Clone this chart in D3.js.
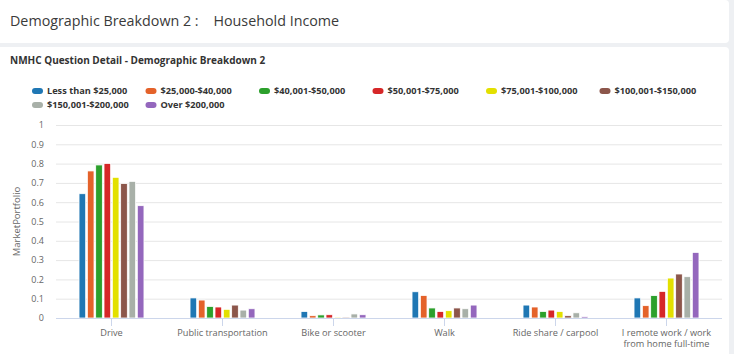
<!DOCTYPE html>
<html>
<head>
<meta charset="utf-8">
<script src="https://cdn.jsdelivr.net/npm/d3@7"></script>
<style>
	body { margin: 0; background: #eef0f3; font-family: "Open Sans", sans-serif; }
</style>
</head>
<body>
<div id="bar_chart"></div>
<script>
// data
const categories = ["Drive", "Public transportation", "Bike or scooter", "Walk", "Ride share / carpool", "I remote work / work from home full-time"];
const seriesNames = ["Less than $25,000", "$25,000-$40,000", "$40,001-$50,000", "$50,001-$75,000", "$75,001-$100,000", "$100,001-$150,000", "$150,001-$200,000", "Over $200,000"];
const lessThan25k = [0.644, 0.104, 0.034, 0.136, 0.067, 0.104];
const from25kTo40k = [0.762, 0.093, 0.012, 0.117, 0.057, 0.064];
const from40kTo50k = [0.793, 0.060, 0.016, 0.052, 0.034, 0.116];
const from50kTo75k = [0.801, 0.057, 0.017, 0.034, 0.041, 0.138];
const from75kTo100k = [0.729, 0.045, 0.005, 0.038, 0.034, 0.207];
const from100kTo150k = [0.697, 0.067, 0.005, 0.052, 0.012, 0.228];
const from150kTo200k = [0.708, 0.041, 0.021, 0.048, 0.027, 0.214];
const over200k = [0.582, 0.048, 0.017, 0.067, 0.007, 0.340];
const yTicks = [0, 0.1, 0.2, 0.3, 0.4, 0.5, 0.6, 0.7, 0.8, 0.9, 1];
const colors = ["#1f77b4", "#e4622a", "#2ca02c", "#d62728", "#e3e000", "#8c564b", "#a8b0a8", "#9467bd"];

const allSeries = [lessThan25k, from25kTo40k, from40kTo50k, from50kTo75k, from75kTo100k, from100kTo150k, from150kTo200k, over200k];
const rows = [];
categories.forEach((c, i) => {
	seriesNames.forEach((s, j) => rows.push({cat: c, name: s, value: allSeries[j][i]}));
});

const W = 734, H = 354;
const plot = {left: 56, right: 722, top: 125, bottom: 318};
const textColor = "#666666";

const svg = d3.select("#bar_chart")
	.append("svg")
	.attr("width", W)
	.attr("height", H);

// page background and the two cards
svg.append("rect").attr("width", W).attr("height", H).attr("fill", "#eef0f3");
svg.append("rect").attr("x", -4).attr("y", 0).attr("width", 733).attr("height", 43).attr("rx", 4).attr("fill", "white");
svg.append("rect").attr("x", -4).attr("y", 47).attr("width", 733).attr("height", 320).attr("rx", 4).attr("fill", "white");

// headings
svg.append("text")
	.attr("x", 10)
	.attr("y", 26)
	.style("font-size", "14.3px")
	.style("fill", "#3a3a3a")
	.attr("xml:space", "preserve")
	.text("Demographic Breakdown 2 :    Household Income");

svg.append("text")
	.attr("x", 10)
	.attr("y", 64)
	.style("font-size", "10px")
	.style("font-weight", "bold")
	.style("fill", "#333")
	.text("NMHC Question Detail - Demographic Breakdown 2");

// legend, 6 items per row
const legend = svg.append("g")
	.selectAll("g")
	.data(seriesNames)
	.join("g")
	.attr("transform", (d, i) => `translate(${32 + (i % 6) * 113.5},${91 + Math.floor(i / 6) * 14})`);

legend.append("rect")
	.attr("x", 0)
	.attr("y", -3)
	.attr("width", 11)
	.attr("height", 6)
	.attr("rx", 3)
	.attr("fill", (d, i) => colors[i]);

legend.append("text")
	.attr("x", 15)
	.attr("dy", "0.35em")
	.style("font-size", "9.2px")
	.style("font-weight", "bold")
	.style("fill", "#333")
	.text(d => d);

// scales
const x0 = d3.scaleBand()
	.domain(categories)
	.range([plot.left, plot.right])
	.paddingInner(0.4)
	.paddingOuter(0.2);

const x1 = d3.scaleBand()
	.domain(seriesNames)
	.range([0, x0.bandwidth()])
	.paddingInner(0.2)
	.paddingOuter(0.1);

const y = d3.scaleLinear()
	.domain([0, 1])
	.range([plot.bottom, plot.top]);

const color = d3.scaleOrdinal().domain(seriesNames).range(colors);

// gridlines and y labels
svg.append("g")
	.attr("transform", `translate(${plot.left},0)`)
	.call(d3.axisLeft(y).tickValues(yTicks).tickSize(-(plot.right - plot.left)).tickPadding(12).tickFormat(d3.format("~g")))
	.call(g => g.select(".domain").remove())
	.call(g => g.selectAll(".tick line").attr("stroke", "#e6e6e6"))
	.call(g => g.selectAll(".tick text").style("font-size", "9px").style("font-family", "Open Sans").style("fill", textColor));

// y axis title
svg.append("text")
	.attr("transform", `translate(17,${(plot.top + plot.bottom) / 2}) rotate(-90)`)
	.attr("text-anchor", "middle")
	.attr("dy", "0.35em")
	.style("font-size", "9.5px")
	.style("fill", textColor)
	.text("MarketPortfolio");

// bars
svg.append("g")
	.selectAll("rect")
	.data(rows)
	.join("rect")
	.attr("x", d => x0(d.cat) + x1(d.name))
	.attr("y", d => y(d.value))
	.attr("width", x1.bandwidth())
	.attr("height", d => y(0) - y(d.value))
	.attr("fill", d => color(d.name))
	.attr("stroke", "white")
	.attr("stroke-width", 0.8);

// x axis
const xAxis = svg.append("g")
	.attr("transform", `translate(0,${plot.bottom})`)
	.call(d3.axisBottom(x0).tickSize(8).tickSizeOuter(0).tickPadding(3));

xAxis.select(".domain").attr("stroke", "#ccd6eb").attr("d", `M${plot.left},0.5H${plot.right}`);
xAxis.selectAll(".tick line").attr("stroke", "#ccd6eb");
xAxis.selectAll(".tick text")
	.style("font-size", "9.2px")
	.style("font-family", "Open Sans")
	.style("fill", textColor)
	.each(function(d) {
		// wrap the long label onto two lines
		if (d.length > 25) {
			const t = d3.select(this).text(null);
			t.append("tspan").attr("x", 0).attr("dy", "0.71em").text("I remote work / work");
			t.append("tspan").attr("x", 0).attr("dy", "1.3em").text("from home full-time");
		}
	});

// gray strip on the right edge
svg.append("rect").attr("x", 729).attr("y", 0).attr("width", 5).attr("height", H).attr("fill", "#eef0f3");
</script>
</body>
</html>
